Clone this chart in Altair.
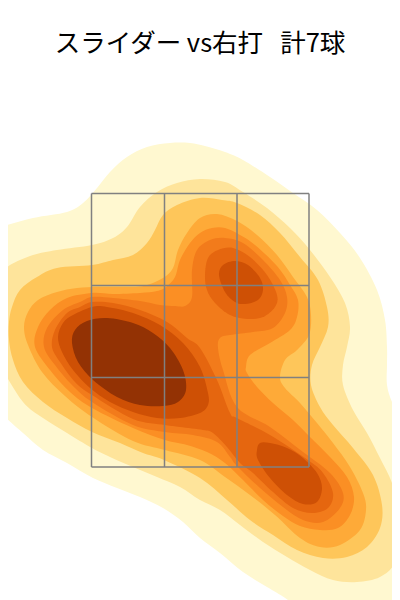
import altair as alt
import pandas as pd

TITLE = "スライダー vs右打\u00a0\u00a0\u00a0計7球"
COLORS = ["#FFF8D0", "#FEE49B", "#FEC65A", "#FEAA38", "#FB8F24", "#F27B1B", "#E5660F", "#CE5005", "#933204"]

L1 = [(-30,235),(0,227),(33,218),(67,212),(83,203),(97,188),(110,172),(127,157),(147,147),(170,143),(190,143),(205,146),(225,152),(243,160),(270,177),(293,193),(317,210),(340,233),(360,258),(377,290),(385,320),(387,347),(387,365),(387,385),(392,402),(402,420),(425,470),(430,560),(420,630),(330,630),(288,600),(267,587),(243,572),(220,553),(200,538),(183,522),(163,508),(140,497),(117,488),(93,478),(67,463),(43,450),(23,433),(0,412),(-30,380)]
L2 = [(-30,290),(0,275),(10,265),(33,255),(57,250),(92,245),(113,238),(127,227),(140,207),(157,192),(177,183),(200,179),(225,182),(243,192),(267,208),(290,228),(310,250),(330,277),(345,303),(350,327),(347,347),(343,365),(343,385),(353,410),(367,433),(380,458),(392,483),(399,510),(399,530),(395,562),(380,577),(357,582),(333,580),(310,570),(287,557),(263,542),(240,525),(220,510),(200,500),(180,487),(157,477),(133,467),(110,457),(92,448),(67,433),(43,418),(23,402),(0,367),(-30,330)]
L3 = [(9,322),(12,307),(20,290),(37,277),(57,268),(92,265),(113,260),(133,255),(147,243),(155,230),(163,215),(177,205),(200,198),(222,200),(237,203),(260,215),(280,233),(300,257),(318,280),(327,307),(328,327),(320,347),(312,365),(311,385),(320,407),(333,425),(353,448),(373,475),(382,505),(380,528),(367,547),(347,557),(323,558),(297,550),(273,535),(250,520),(227,500),(200,478),(164,460),(143,453),(120,443),(92,432),(67,418),(43,402),(23,382),(13,360),(9,340)]
L4 = [(24,327),(28,312),(38,300),(57,292),(77,288),(100,287),(133,287),(147,285),(163,278),(173,268),(178,250),(187,233),(200,218),(217,214),(237,221),(257,235),(277,255),(293,277),(307,297),(311,315),(309,335),(297,350),(285,360),(280,377),(285,388),(300,403),(317,423),(333,443),(350,467),(363,493),(366,510),(360,530),(340,545),(320,547),(300,538),(275,515),(250,495),(225,477),(200,460),(165,450),(133,441),(92,417),(65,396),(42,372),(28,345)]
L5 = [(35,347),(38,327),(50,310),(67,298),(92,293),(113,294),(140,293),(157,291),(166,287),(175,277),(180,260),(190,243),(200,233),(212,228),(225,228),(240,235),(255,245),(277,266),(290,285),(298,300),(297,317),(290,330),(270,343),(250,355),(246,367),(247,373),(257,387),(273,403),(293,420),(310,437),(330,457),(347,477),(354,497),(350,515),(338,528),(320,530),(300,526),(283,516),(263,500),(243,480),(225,463),(207,452),(187,445),(165,440),(133,428),(92,408),(70,392),(50,370)]
L6 = [(44,347),(47,328),(63,310),(80,302),(92,297),(113,298),(140,301),(160,305),(175,306),(185,306),(192,297),(192,270),(197,250),(210,240),(225,238),(243,243),(263,260),(280,280),(287,297),(285,313),(273,328),(253,332),(230,335),(220,338),(218,348),(223,370),(237,407),(270,427),(303,452),(330,473),(343,493),(340,508),(323,522),(303,520),(283,507),(260,488),(237,466),(230,457),(217,442),(193,435),(165,432),(133,425),(92,402),(72,385),(55,365)]
L7_MAIN = [(52,347),(55,330),(67,313),(80,307),(92,302),(113,303),(140,310),(167,322),(187,338),(200,348),(217,380),(230,413),(237,418),(270,435),(308,460),(323,473),(333,493),(328,508),(312,513),(293,508),(273,492),(253,473),(240,463),(227,447),(213,433),(203,430),(180,427),(165,425),(133,419),(92,395),(75,382),(60,362)]
L7_UP = [(205,275),(208,258),(218,250),(233,248),(250,257),(267,275),(277,295),(275,307),(263,317),(247,319),(230,315),(215,303),(207,290)]
L8_A = [(58,337),(63,323),(73,315),(92,307),(107,307),(133,313),(160,325),(183,343),(200,367),(208,393),(208,405),(200,413),(180,418),(157,418),(133,412),(110,402),(90,388),(73,370),(62,352)]
L8_B = [(219,275),(223,265),(235,261),(248,265),(260,278),(263,290),(258,300),(245,304),(235,302),(225,292)]
L8_C = [(257,450),(260,443),(270,443),(287,448),(303,458),(317,473),(322,488),(317,502),(303,504),(287,495),(270,478),(258,460)]
L9 = [(72,343),(75,330),(87,321),(107,318),(133,323),(153,333),(170,348),(183,370),(186,390),(178,402),(163,406),(140,405),(117,397),(93,380),(78,362)]

SHAPES = [(L1,0),(L2,1),(L3,2),(L4,3),(L5,4),(L6,5),(L7_MAIN,6),(L7_UP,6),(L8_A,7),(L8_B,7),(L8_C,7),(L9,8)]

ZONE_X = [91.5, 164.5, 237, 309]
ZONE_Y = [193.5, 285.5, 377.5, 467]

xs = alt.Scale(domain=[8, 392], range=[0, 384], nice=False, zero=False)
ys = alt.Scale(domain=[8, 600], range=[0, 592], nice=False, zero=False)

layers = []
for pts, c in SHAPES:
    df = pd.DataFrame(pts, columns=["x", "y"]).reset_index(names="i")
    layers.append(
        alt.Chart(df).mark_line(interpolate="cardinal-closed", fill=COLORS[c], stroke=COLORS[c], strokeWidth=0, clip=True).encode(
            x=alt.X("x:Q", scale=xs, axis=None),
            y=alt.Y("y:Q", scale=ys, axis=None),
            order="i:O",
        )
    )

rows = [{"x": v, "x2": v, "y": ZONE_Y[0], "y2": ZONE_Y[-1]} for v in ZONE_X]
rows += [{"x": ZONE_X[0], "x2": ZONE_X[-1], "y": v, "y2": v} for v in ZONE_Y]
layers.append(
    alt.Chart(pd.DataFrame(rows)).mark_rule(color="#808080", strokeWidth=1.5).encode(
        x=alt.X("x:Q", scale=xs, axis=None), x2="x2:Q",
        y=alt.Y("y:Q", scale=ys, axis=None), y2="y2:Q",
    )
)

chart = alt.layer(*layers).properties(
    width=384, height=592, padding=0,
    autosize=alt.AutoSizeParams(type="none"),
    title=alt.TitleParams(TITLE, font="Noto Sans CJK JP", fontSize=25.5, fontWeight="normal", color="black",
                          anchor="middle", baseline="middle", dy=61, offset=0),
).configure_view(stroke=None)

chart.save("out.html", embed_options={"renderer": "svg", "actions": False})
